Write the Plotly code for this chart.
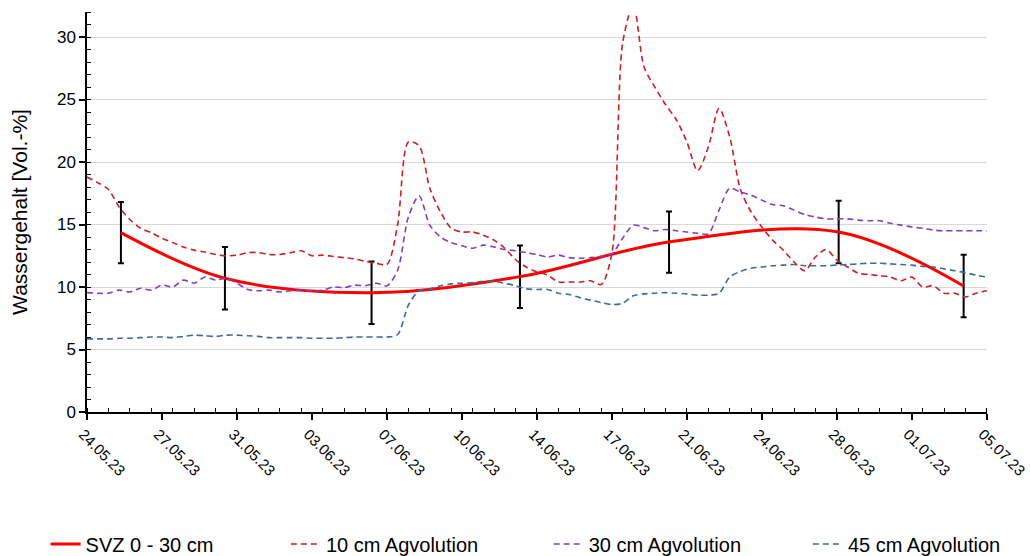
import pandas as pd
import plotly.graph_objects as go

# ---- data ----
svz_dates = ["2023-05-25 14:00", "2023-05-30 10:30", "2023-06-06 06:45", "2023-06-13 05:00",
             "2023-06-20 04:00", "2023-06-28 02:00", "2023-07-03 22:00"]
svz_values = [14.35, 10.7, 9.55, 10.83, 13.6, 14.4, 10.08]
svz_error = [2.45, 2.5, 2.5, 2.5, 2.45, 2.5, 2.5]

probe_dates = pd.date_range("2023-05-24", periods=85, freq="12h")

cm10 = [18.8, 18.35, 17.8, 16.4, 15.4, 14.7, 14.35, 13.9, 13.55, 13.2,
        12.95, 12.8, 12.6, 12.5, 12.55, 12.75, 12.75, 12.6, 12.6, 12.75,
        12.9, 12.5, 12.55, 12.45, 12.35, 12.25, 12.05, 11.9, 11.8, 15.0,
        21.6, 21.3, 17.9, 16.0, 14.7, 14.4, 14.4, 14.15, 13.75, 13.1,
        12.2, 11.6, 11.2, 10.95, 10.4, 10.4, 10.4, 10.5, 10.2, 12.7,
        29.5, 32.6, 27.6, 26.0, 24.6, 23.4, 21.6, 19.3, 21.2, 24.3,
        22.0, 17.8, 16.0, 14.8, 13.75, 12.95, 12.0, 11.3, 12.4, 13.0,
        12.15, 11.6, 11.1, 11.0, 10.9, 10.8, 10.5, 10.8, 10.0, 10.1,
        9.5, 9.5, 9.2, 9.5, 9.7]

cm30 = [9.55, 9.5, 9.5, 9.75, 9.6, 9.9, 9.75, 10.15, 10.0, 10.55,
        10.3, 10.8, 10.55, 10.7, 10.3, 9.8, 9.7, 9.75, 9.6, 9.7,
        9.75, 9.7, 9.75, 10.0, 9.95, 10.15, 10.1, 10.3, 10.1, 11.35,
        15.6, 17.3, 14.95, 14.0, 13.55, 13.3, 13.1, 13.35, 13.2, 13.0,
        12.9, 12.75, 12.6, 12.4, 12.55, 12.35, 12.3, 12.35, 12.45, 12.65,
        13.9, 14.95, 14.75, 14.5, 14.6, 14.5, 14.4, 14.3, 14.25, 16.15,
        17.9, 17.6, 17.35, 16.95, 16.6, 16.5, 16.15, 15.8, 15.6, 15.45,
        15.45, 15.45, 15.35, 15.3, 15.3, 15.1, 14.95, 14.8, 14.7, 14.55,
        14.5, 14.5, 14.5, 14.5, 14.5]

cm45 = [5.85, 5.85, 5.85, 5.9, 5.9, 5.95, 6.0, 6.0, 5.95, 6.05,
        6.15, 6.1, 6.05, 6.15, 6.15, 6.1, 6.05, 5.95, 5.95, 5.95,
        5.95, 5.9, 5.9, 5.9, 5.95, 6.0, 6.0, 6.0, 6.0, 6.2,
        8.55, 9.7, 9.85, 10.1, 10.25, 10.3, 10.35, 10.45, 10.45, 10.3,
        10.1, 9.85, 9.8, 9.8, 9.5, 9.4, 9.15, 8.95, 8.75, 8.6,
        8.7, 9.3, 9.45, 9.5, 9.55, 9.5, 9.45, 9.35, 9.35, 9.5,
        10.8, 11.25, 11.5, 11.6, 11.7, 11.75, 11.8, 11.7, 11.7, 11.7,
        11.75, 11.8, 11.85, 11.9, 11.9, 11.85, 11.8, 11.75, 11.65, 11.6,
        11.45, 11.3, 11.15, 10.95, 10.8]

FONT = "Liberation Sans, Arial, sans-serif"
DASH = "6px,4px"

fig = go.Figure()

fig.add_trace(go.Scatter(
    x=svz_dates, y=svz_values, name="SVZ 0 - 30 cm", mode="lines", legend="legend",
    line=dict(color="#FF0000", width=3, shape="spline", smoothing=1.0),
    error_y=dict(type="data", array=svz_error, visible=True, color="black",
                 thickness=2, width=3),
))
fig.add_trace(go.Scatter(
    x=probe_dates, y=cm10, name="10 cm Agvolution", mode="lines", legend="legend2",
    line=dict(color="#CC1F26", width=1.6, dash=DASH, shape="spline", smoothing=0.8),
))
fig.add_trace(go.Scatter(
    x=probe_dates, y=cm30, name="30 cm Agvolution", mode="lines", legend="legend3",
    line=dict(color="#7E3FC0", width=1.6, dash=DASH, shape="spline", smoothing=0.8),
))
fig.add_trace(go.Scatter(
    x=probe_dates, y=cm45, name="45 cm Agvolution", mode="lines", legend="legend4",
    line=dict(color="#3D6A96", width=1.6, dash=DASH, shape="spline", smoothing=0.8),
))


def leg(xpos):
    return dict(orientation="h", x=xpos, xanchor="left", y=-0.33, yanchor="middle",
                font=dict(size=20, family=FONT), itemwidth=30,
                bgcolor="rgba(0,0,0,0)")


fig.update_layout(
    width=1030, height=556,
    margin=dict(l=87, r=43, t=12, b=144, autoexpand=False),
    paper_bgcolor="white", plot_bgcolor="white",
    font=dict(family=FONT, color="black", size=16),
    showlegend=True,
    legend=leg(-0.046),
    legend2=leg(0.221),
    legend3=leg(0.513),
    legend4=leg(0.801),
    xaxis=dict(
        type="date", range=["2023-05-24", "2023-07-05 00:10"], automargin=False,
        tick0="2023-05-24", dtick=3.5 * 86400000, tickformat="%d.%m.%y",
        tickangle=45, tickfont=dict(size=15, family=FONT), ticklabeloverflow="allow",
        ticklabelshift=-4,
        showline=True, linecolor="black", linewidth=1.5,
        ticks="outside", ticklen=6, tickwidth=1.5, tickcolor="black",
        showgrid=False, zeroline=False,
        minor=dict(dtick=86400000, tick0="2023-05-24", ticks="inside", ticklen=4,
                   tickwidth=1.2, tickcolor="black", showgrid=False),
    ),
    yaxis=dict(
        range=[0, 32], tick0=0, dtick=5, automargin=False,
        tickfont=dict(size=17, family=FONT),
        title=dict(text="Wassergehalt [Vol.-%]", font=dict(size=21, family=FONT), standoff=24),
        showline=True, linecolor="black", linewidth=1.5,
        ticks="outside", ticklen=6, tickwidth=1.5, tickcolor="black",
        showgrid=True, gridcolor="#D9D9D9", gridwidth=1.2, zeroline=False,
        minor=dict(dtick=1, ticks="inside", ticklen=4, tickwidth=1.2, tickcolor="black",
                   showgrid=False),
    ),
)

# remove the default 8px page margin so the 1030x556 figure fills the window
fig.write_html("out.html", config={"displayModeBar": False},
               post_script="document.body.style.margin='0';")
